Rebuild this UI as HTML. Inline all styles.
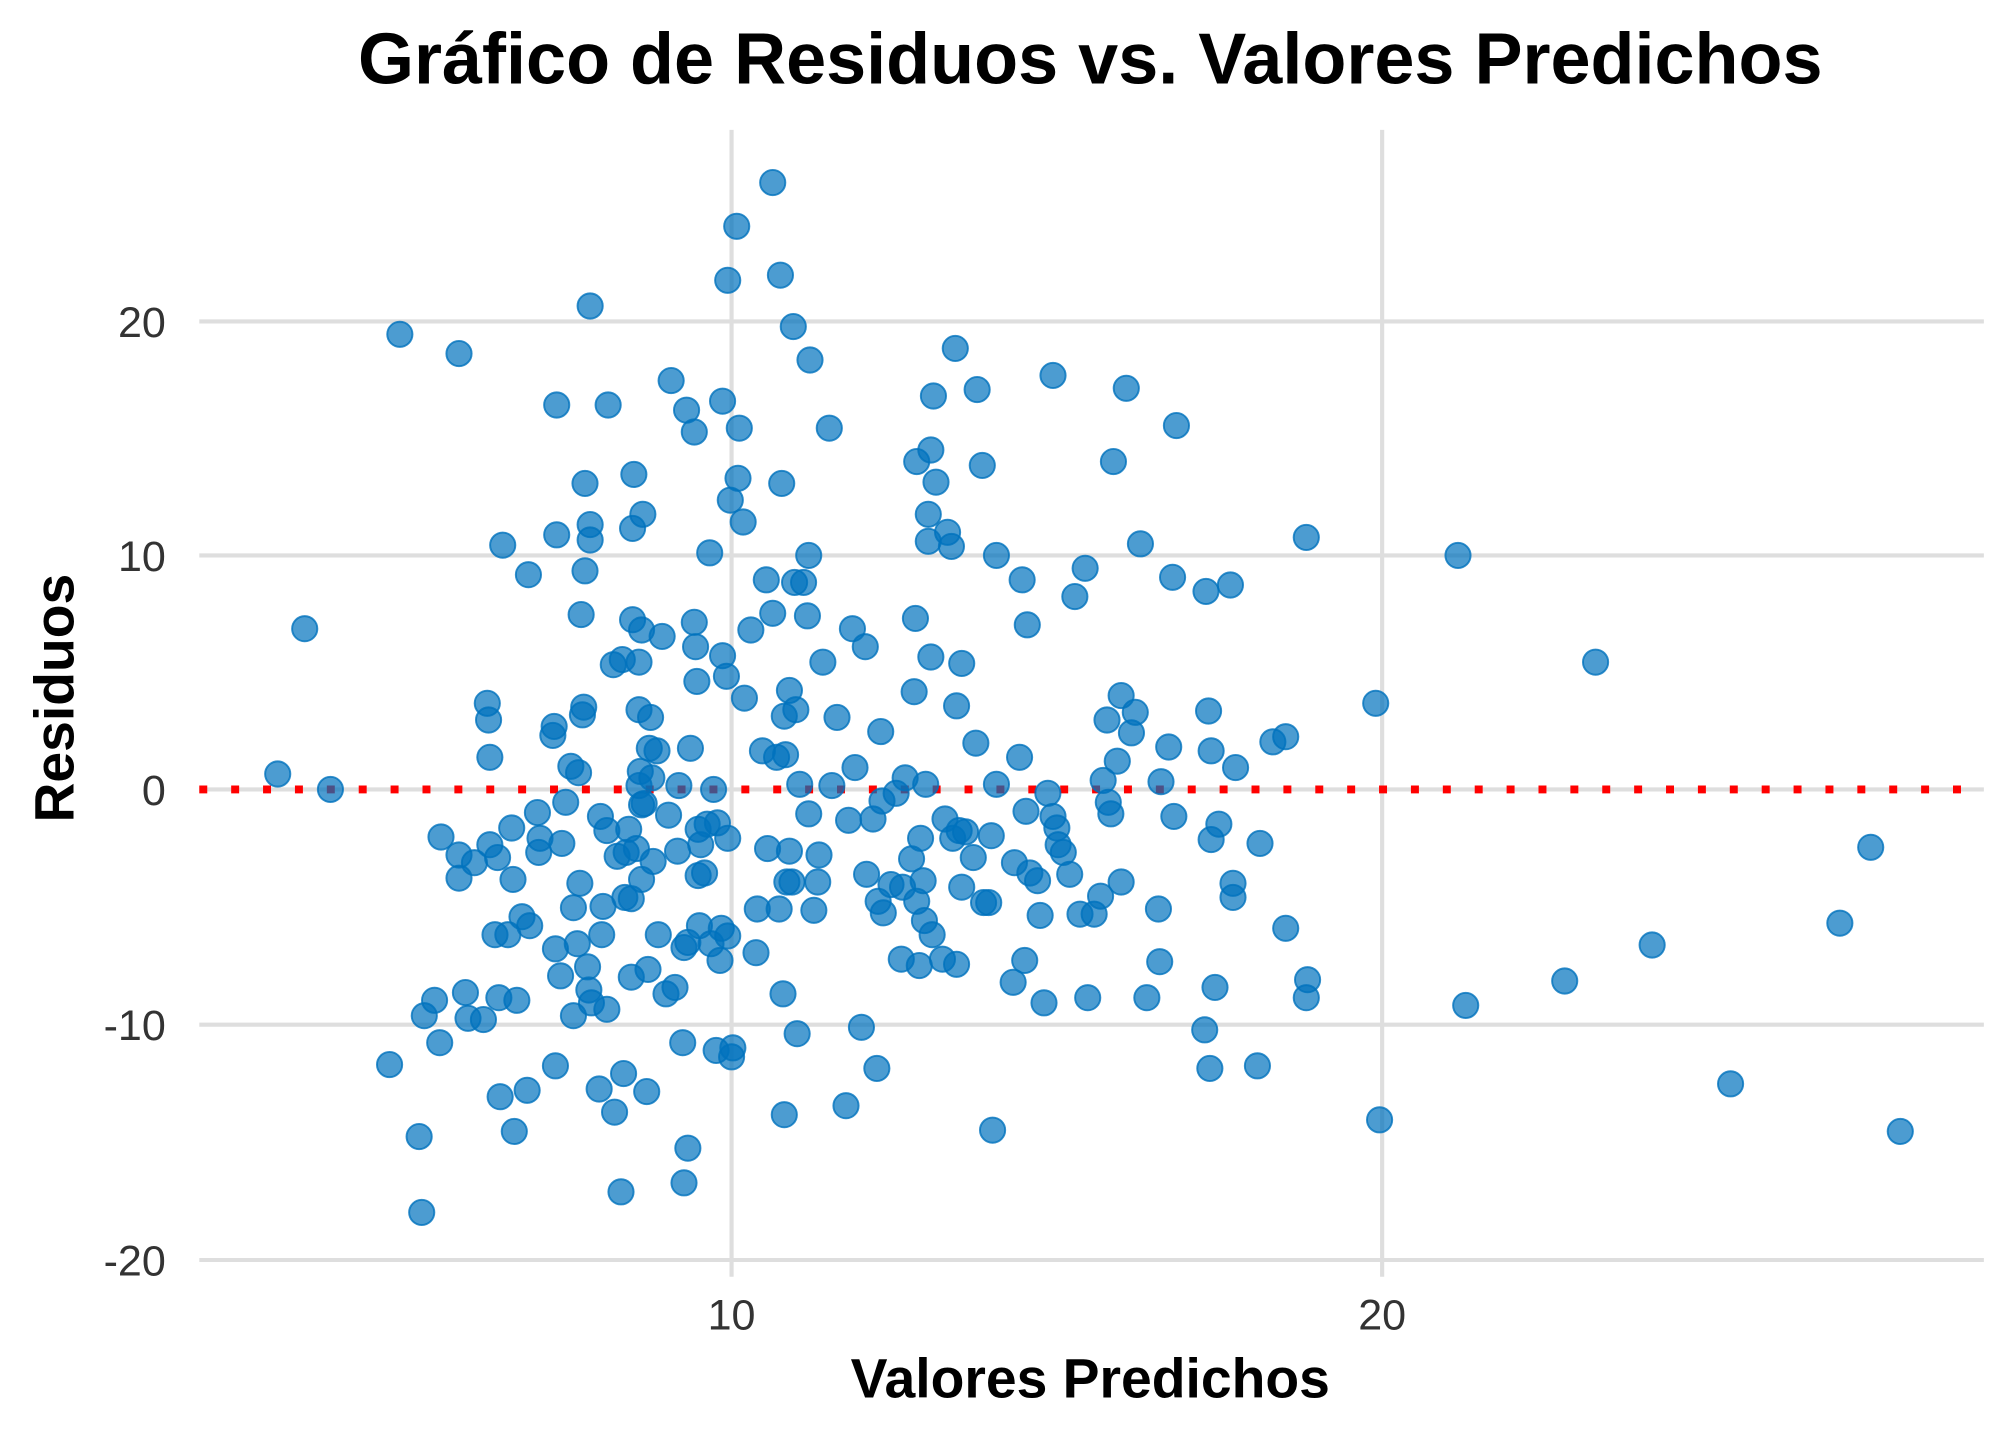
<!DOCTYPE html>
<html><head><meta charset="utf-8"><style>html,body{margin:0;padding:0;background:#fff}svg{display:block}</style></head><body>
<svg width="2016" height="1440" viewBox="0 0 1568 1120" preserveAspectRatio="none" xmlns="http://www.w3.org/2000/svg" font-family="Liberation Sans, Arial, sans-serif">
<rect width="1570" height="1122" fill="#fff"/>
<g stroke="#dedede" stroke-width="3.2">
<line x1="155" x2="1543" y1="250" y2="250"/><line x1="155" x2="1543" y1="432" y2="432"/><line x1="155" x2="1543" y1="614" y2="614"/><line x1="155" x2="1543" y1="797" y2="797"/><line x1="155" x2="1543" y1="980" y2="980"/>
<line x1="569" x2="569" y1="101" y2="993"/><line x1="1075" x2="1075" y1="101" y2="993"/>
</g>
<line x1="155" x2="1543" y1="614" y2="614" stroke="#ff0000" stroke-width="6.2" stroke-dasharray="6.2 18.6"/>
<g fill="#0072BD" fill-opacity="0.7" stroke="#0072BD" stroke-opacity="0.8" stroke-width="1.5" id="pts"></g>
<g fill="#333" font-size="33.5" text-anchor="end">
<text x="129" y="262">20</text><text x="129" y="444">10</text><text x="129" y="626">0</text><text x="129" y="809">-10</text><text x="129" y="992">-20</text>
</g>
<g fill="#333" font-size="33.5" text-anchor="middle">
<text x="569" y="1034">10</text><text x="1075" y="1034">20</text>
</g>
<text x="848" y="1087" font-size="43" font-weight="bold" text-anchor="middle">Valores Predichos</text>
<text transform="translate(57,543) rotate(-90)" font-size="43" font-weight="bold" text-anchor="middle">Residuos</text>
<text x="848" y="65" font-size="56" font-weight="bold" text-anchor="middle">Gráfico de Residuos vs. Valores Predichos</text>
</svg>
<script>
var p=[216,602,237,489,257,614,303,828,311,260,326,884,328,943,330,790,338,778,342,811,343,651,357,275,357,665,357,683,362,772,364,792,369,671,376,793,379,547,380,560,381,589,381,657,385,727,387,667,388,776,389,853,391,424,395,727,398,644,399,684,400,880,402,778,406,713,410,848,411,447,412,720,418,632,419,663,420,652,430,572,431,565,432,829,432,738,433,416,433,315,436,759,437,656,440,624,444,596,446,790,446,706,449,734,450,601,451,687,452,478,453,556,454,550,455,376,455,444,457,752,458,770,459,238,459,408,459,420,460,780,466,847,467,635,468,727,469,705,472,646,472,785,473,315,477,517,478,865,480,666,483,927,484,513,485,835,486,698,487,663,489,645,491,760,491,699,492,482,492,411,493,369,495,660,497,611,497,552,497,515,498,600,499,626,499,490,499,684,500,400,501,625,503,849,504,754,505,582,506,558,507,605,508,670,511,584,512,727,515,495,518,773,520,634,522,296,525,768,527,662,528,611,531,811,532,920,532,737,534,319,535,733,535,893,537,582,540,336,540,484,541,503,542,530,543,681,543,645,544,720,545,657,548,679,550,641,552,430,553,734,555,614,557,817,558,640,560,747,561,722,562,510,562,312,565,526,566,218,566,652,566,728,568,389,569,822,570,815,573,176,574,372,575,333,578,406,579,543,584,490,588,741,589,707,593,584,596,451,597,660,601,477,601,142,604,589,606,707,607,214,608,376,609,773,610,867,610,557,611,587,612,686,614,662,614,537,616,686,617,254,618,453,619,552,620,804,622,610,625,453,628,479,629,432,629,633,630,280,633,708,636,686,637,665,640,515,645,333,647,611,651,558,658,860,660,638,663,489,665,597,670,799,673,503,674,680,679,637,682,831,683,701,685,569,686,623,687,710,693,688,697,617,701,746,702,690,704,605,709,668,711,538,712,481,713,359,713,701,715,751,716,652,718,685,719,716,720,610,722,400,722,421,724,350,724,511,725,727,726,308,728,375,733,746,735,637,737,414,740,425,741,652,743,271,744,549,744,750,746,646,748,516,748,690,751,647,757,667,759,578,760,303,764,362,765,702,769,702,771,650,772,879,775,610,775,432,788,764,789,671,793,589,795,451,797,747,798,631,799,486,801,679,807,685,809,712,812,780,815,617,819,635,819,292,822,644,823,657,827,663,832,680,836,464,840,711,844,442,846,776,851,711,856,697,858,607,861,560,862,624,864,633,866,359,869,592,872,541,872,686,876,302,880,570,883,554,887,423,892,776,901,707,902,748,903,608,909,581,912,449,913,635,915,331,937,801,938,460,940,553,941,831,942,584,942,653,945,768,948,641,957,455,959,687,959,698,961,597,978,829,980,656,990,577,1000,573,1000,722,1016,418,1016,776,1017,762,1070,547,1073,871,1134,432,1140,782,1217,763,1241,515,1285,735,1346,843,1431,718,1455,659,1478,880];
var g=document.getElementById('pts'),s='';
for(var i=0;i<p.length;i+=2)s+='<circle cx="'+p[i]+'" cy="'+p[i+1]+'" r="9.8"/>';
g.innerHTML=s;
</script>
</body></html>
